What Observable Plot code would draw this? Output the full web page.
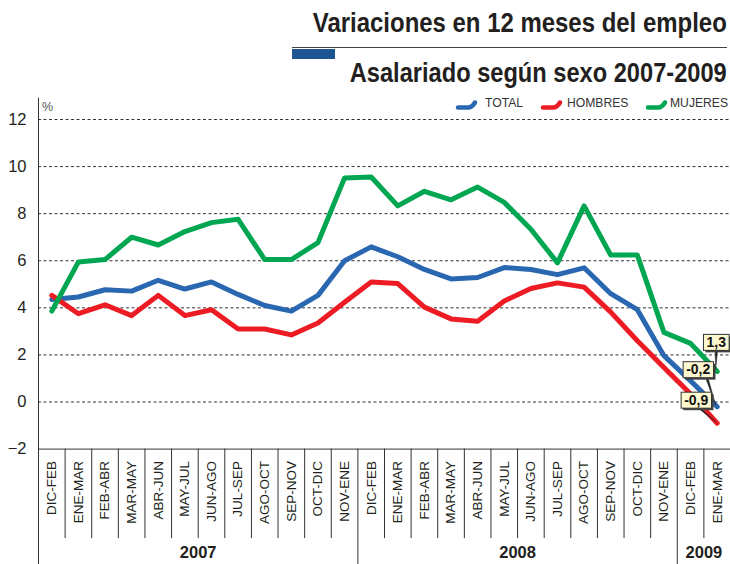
<!DOCTYPE html>
<html><head><meta charset="utf-8">
<script src="https://cdn.jsdelivr.net/npm/d3@7"></script>
<script src="https://cdn.jsdelivr.net/npm/@observablehq/plot@0.6"></script>
<style>
body{margin:0;background:#fff;}
#wrap{position:relative;width:730px;height:564px;overflow:hidden;font-family:"Liberation Sans",Arial,sans-serif;}
.t{position:absolute;right:3px;font-weight:bold;font-size:27px;color:#231f20;white-space:nowrap;line-height:1;transform-origin:100% 50%;}
.lg{position:absolute;top:96px;font-size:13.5px;color:#333;line-height:1;white-space:nowrap;transform:scaleX(0.9);transform-origin:0 50%;}
.ic{position:absolute;top:99px;}
#chart{position:absolute;left:0;top:90px;}
</style></head><body>
<div id="wrap">
  <div class="t" id="t1" style="top:10px">Variaciones en 12 meses del empleo</div>
  <div style="position:absolute;left:292px;right:3px;top:46.5px;height:1.2px;background:#444"></div>
  <div style="position:absolute;left:292px;width:43px;top:49px;height:10px;background:#1d5592"></div>
  <div class="t" id="t2" style="top:60px">Asalariado según sexo 2007-2009</div>
  <div id="chart"></div>
  <div id="legend"></div>
  <div style="position:absolute;left:42px;top:101px;font-size:12.5px;color:#555;line-height:1">%</div>
</div>
<script>
const categories = ["DIC-FEB","ENE-MAR","FEB-ABR","MAR-MAY","ABR-JUN","MAY-JUL","JUN-AGO","JUL-SEP","AGO-OCT","SEP-NOV","OCT-DIC","NOV-ENE",
  "DIC-FEB","ENE-MAR","FEB-ABR","MAR-MAY","ABR-JUN","MAY-JUL","JUN-AGO","JUL-SEP","AGO-OCT","SEP-NOV","OCT-DIC","NOV-ENE",
  "DIC-FEB","ENE-MAR"];
const years = ["2007","2008","2009"];
const yearCounts = [12, 12, 2];
const seriesNames = ["TOTAL","HOMBRES","MUJERES"];
const total   = [4.35,4.46,4.77,4.71,5.17,4.80,5.10,4.57,4.10,3.86,4.53,6.00,6.59,6.17,5.63,5.23,5.29,5.71,5.63,5.41,5.70,4.60,3.92,1.97,0.90,-0.2];
const hombres = [4.53,3.75,4.13,3.67,4.53,3.67,3.92,3.10,3.10,2.85,3.36,4.24,5.10,5.03,4.03,3.53,3.43,4.29,4.82,5.06,4.88,3.82,2.60,1.47,0.34,-0.9];
const mujeres = [3.86,5.95,6.05,7.00,6.67,7.24,7.62,7.76,6.05,6.05,6.77,9.52,9.56,8.33,8.95,8.59,9.13,8.48,7.34,5.91,8.33,6.24,6.24,2.96,2.49,1.3];
const yTicks = [-2,0,2,4,6,8,10,12];
const colors = ["#2a67b1","#ed1c24","#00a651"];

// fit the condensed-looking titles to their widths
[["t1", 414], ["t2", 377]].forEach(([id, w]) => {
  const el = document.getElementById(id);
  el.style.transform = `scaleX(${w / el.getBoundingClientRect().width})`;
});

const seriesValues = [total, hombres, mujeres];
const rows = [];
seriesValues.forEach((vals, s) => vals.forEach((v, i) => rows.push({serie: seriesNames[s], i, v})));
const n = categories.length;
const idx = d3.range(n);
let acc = 0; const yearBounds = [], yearCenters = [];
yearCounts.forEach((c, k) => { yearCenters.push(acc + (c - 1) / 2); acc += c; if (k < yearCounts.length - 1) yearBounds.push(acc - 0.5); });
const innerSeps = d3.range(0.5, n - 1, 1).filter(v => !yearBounds.includes(v));
const lastIdx = n - 1;
const fmt = v => String(v.toFixed(1)).replace(".", ",");
const callouts = [
  {serie: 2, dx: -1, dy: -29, at: 0.5},
  {serie: 0, dx: -19, dy: -37, at: 0.78},
  {serie: 1, dx: -21, dy: -23, at: 0.6}
];
const REG = '"Liberation Sans",Arial,sans-serif';

const plot = Plot.plot({
  width: 730, height: 474,
  marginTop: 29, marginBottom: 115.4, marginLeft: 38, marginRight: 0,
  style: {fontFamily: REG, color: "#231f20", overflow: "visible"},
  x: {domain: [-0.5, n - 0.5], label: null},
  y: {domain: [-2, 12], label: null},
  color: {domain: seriesNames, range: colors},
  marks: [
    Plot.ruleY(yTicks.filter(d => d > -2), {stroke: "#333", strokeDasharray: "3,2.5", strokeWidth: 1}),
    Plot.axisX(innerSeps, {tickSize: 89.5, tickFormat: () => "", stroke: "#333", strokeWidth: 1}),
    Plot.axisX(yearBounds, {tickSize: 120, tickFormat: () => "", stroke: "#333", strokeWidth: 1}),
    Plot.axisX(idx, {tickFormat: i => categories[i], tickRotate: -90, tickSize: 0, tickPadding: 12, fontSize: 13.5, fill: "#231f20"}),
    Plot.axisX(yearCenters, {tickFormat: (d, k) => years[k], tickSize: 0, tickPadding: 97, fontSize: 16.5, fontWeight: "bold", fill: "#231f20"}),
    Plot.axisY(yTicks, {tickSize: 0, tickPadding: 12, fontSize: 16.5, fill: "#231f20"}),
    Plot.ruleY([-2], {stroke: "#333", strokeWidth: 1}),
    Plot.ruleX([-0.5], {y1: 12.9, y2: -7.2, stroke: "#333", strokeWidth: 1}),
    Plot.line(rows, {x: "i", y: "v", stroke: "serie", strokeWidth: 5, strokeLinejoin: "round", strokeLinecap: "round"}),
    ...callouts.map(c => Plot.text([seriesValues[c.serie][lastIdx]], {
      x: () => lastIdx, y: d => d, text: d => fmt(d), dx: c.dx, dy: c.dy,
      fontSize: 14, fontWeight: "bold", fill: "#111", textAnchor: "middle", lineAnchor: "middle"
    }))
  ]
});
document.getElementById("chart").appendChild(plot);

// callout boxes and pointers around the text marks, positioned through the plot scales
const sx = plot.scale("x"), sy = plot.scale("y");
const svg = d3.select(plot);
const textGroups = plot.querySelectorAll('g[aria-label="text"]');
const boxLayer = svg.insert("g", 'g[aria-label="text"]');
const base = plot.getCTM();
textGroups.forEach((g, k) => {
  const c = callouts[k];
  const t = g.querySelector("text");
  const b = t.getBBox();
  const m = t.getCTM();
  const ox = m.e - base.e, oy = m.f - base.f;
  const x0 = b.x + ox - 3, y0 = b.y + oy + 0.5, w = b.width + 6, h = b.height;
  const px = sx.apply(lastIdx), py = sy.apply(seriesValues[c.serie][lastIdx]);
  const bx = x0 + w * c.at;
  boxLayer.append("path").attr("d", `M${bx - 1.2},${y0 + h}L${bx + 1.2},${y0 + h}L${px - 1},${py - 1}Z`).attr("fill", "#222").attr("stroke", "#222").attr("stroke-width", 0.5).attr("stroke-linejoin", "round");
  boxLayer.append("rect").attr("x", x0 + 2).attr("y", y0 + 2).attr("width", w).attr("height", h).attr("fill", "#444");
  boxLayer.append("rect").attr("x", x0).attr("y", y0).attr("width", w).attr("height", h).attr("fill", "#fdf8cf").attr("stroke", "#333").attr("stroke-width", 1);
});

// legend
const legendPos = [{ic: 455, tx: 485}, {ic: 540, tx: 567}, {ic: 645, tx: 670}];
const lg = d3.select("#legend");
seriesNames.forEach((name, k) => {
  lg.append("svg").attr("class", "ic").style("left", legendPos[k].ic + "px").attr("width", 24).attr("height", 12)
    .append("path").attr("d", "M3,8.5 L13,8.5 Q17,8.5 20,3.5").attr("fill", "none").attr("stroke", colors[k]).attr("stroke-width", 4.5).attr("stroke-linecap", "round");
  lg.append("div").attr("class", "lg").style("left", legendPos[k].tx + "px").text(name);
});
</script>
</body></html>
